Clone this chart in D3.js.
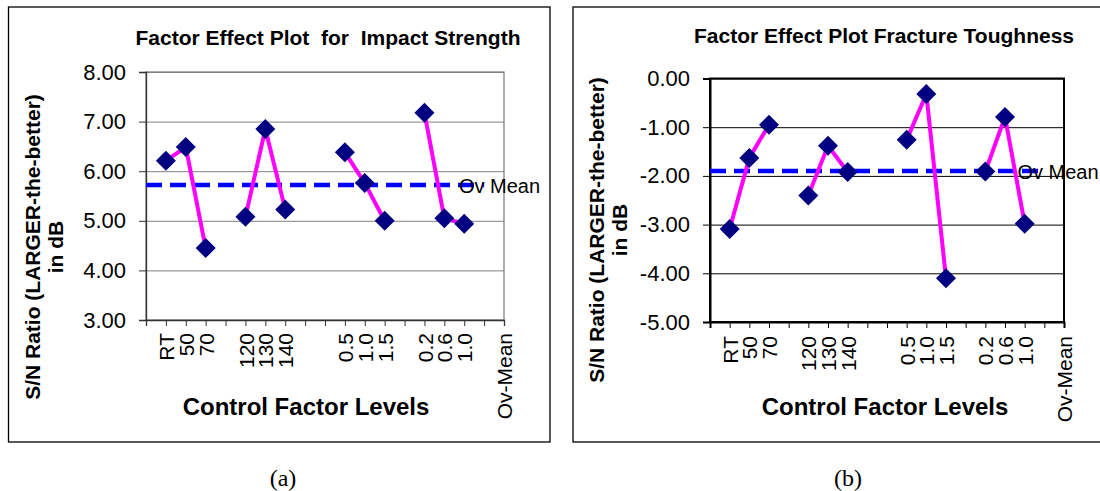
<!DOCTYPE html>
<html>
<head>
<meta charset="utf-8">
<script src="https://cdn.jsdelivr.net/npm/d3@7"></script>
<style>
  body { margin: 0; background: #fff; overflow: hidden; }
  svg { display: block; font-family: "Liberation Sans", Arial, sans-serif; }
  .title { font-weight: bold; white-space: pre; }
</style>
</head>
<body>
<svg id="chart" width="1100" height="491"></svg>
<script>
// category slots on the x axis (blank ones are spacers between factors)
var categories = ["", "RT", "50", "70", "", "120", "130", "140", "", "", "0.5", "1.0", "1.5", "", "0.2", "0.6", "1.0", "", "Ov-Mean"];

// S/N ratios
var impactSN = [null, 6.21, 6.49, 4.45, null, 5.08, 6.85, 5.23, null, null, 6.38, 5.76, 5.00, null, 7.18, 5.05, 4.94, null, null];
var impactMean = 5.72;
var impactTicks = [3, 4, 5, 6, 7, 8];

var toughSN = [null, -3.09, -1.63, -0.95, null, -2.40, -1.38, -1.92, null, null, -1.26, -0.32, -4.10, null, -1.91, -0.79, -2.98, null, null];
var toughMean = -1.90;
var toughTicks = [-5, -4, -3, -2, -1, 0];

var meanEnd = 17; // dashed mean line runs to this slot, label sits on the last one

var svg = d3.select("#chart");

function drawPanel(p){
    var g = svg.append("g");

    // outer frame
    g.append("rect")
        .attr("x", p.box[0]).attr("y", p.box[1])
        .attr("width", p.box[2]).attr("height", p.box[3])
        .attr("fill", "none").attr("stroke", "#000").attr("stroke-width", 1.3);

    var x = d3.scalePoint()
        .domain(d3.range(categories.length))
        .range([p.left, p.right]);
    var y = d3.scaleLinear()
        .domain(d3.extent(p.ticks))
        .range([p.bottom, p.top]);

    // gridlines
    g.append("g")
        .attr("transform", `translate(${p.left},0)`)
        .call(d3.axisLeft(y).tickValues(p.ticks).tickSize(-(p.right - p.left)).tickFormat(""))
        .call(a => a.select(".domain").remove())
        .selectAll("line").attr("stroke", p.gridColor);

    // plot frame
    g.append("rect")
        .attr("x", p.left).attr("y", p.top)
        .attr("width", p.right - p.left).attr("height", p.bottom - p.top)
        .attr("fill", "none").attr("stroke", p.frameColor).attr("stroke-width", p.frameWidth);

    // y axis
    var ya = g.append("g")
        .attr("transform", `translate(${p.left},0)`)
        .call(d3.axisLeft(y).tickValues(p.ticks).tickSize(7).tickPadding(13).tickFormat(v => v.toFixed(2)));
    ya.select(".domain").attr("stroke", p.axisColor).attr("stroke-width", p.frameWidth);
    ya.selectAll("line").attr("stroke", p.axisColor);
    ya.selectAll("text").attr("font-size", 22).attr("fill", "#000")
        .attr("font-family", "Liberation Sans, Arial, sans-serif");

    // x axis
    var xa = g.append("g")
        .attr("transform", `translate(0,${p.bottom})`)
        .call(d3.axisBottom(x).tickSize(6).tickFormat(i => categories[i]));
    xa.select(".domain").attr("stroke", p.axisColor).attr("stroke-width", p.frameWidth);
    xa.selectAll("line").attr("stroke", p.axisColor);
    xa.selectAll("text")
        .attr("font-size", 21).attr("fill", "#000")
        .attr("font-family", "Liberation Sans, Arial, sans-serif")
        .attr("text-anchor", "end")
        .attr("transform", "rotate(-90)")
        .attr("x", -p.labelGap).attr("y", 0).attr("dy", "0.36em");

    // mean line
    g.append("line")
        .attr("x1", x(0)).attr("x2", x(meanEnd))
        .attr("y1", y(p.mean)).attr("y2", y(p.mean))
        .attr("stroke", "#0000ff").attr("stroke-width", 4.5)
        .attr("stroke-dasharray", "16 8");

    // factor lines
    var line = d3.line()
        .defined(d => d != null)
        .x((d, i) => x(i))
        .y(d => y(d));
    g.append("path")
        .datum(p.values)
        .attr("d", line)
        .attr("fill", "none").attr("stroke", "#ff00ff").attr("stroke-width", 4)
        .attr("stroke-linejoin", "round");

    // diamonds
    var pts = p.values.map((v, i) => ({v: v, i: i})).filter(d => d.v != null);
    g.selectAll("path.mark")
        .data(pts)
        .enter().append("path")
        .attr("class", "mark")
        .attr("d", "M0,-10L10,0L0,10L-10,0Z")
        .attr("transform", d => `translate(${x(d.i)},${y(d.v)})`)
        .attr("fill", "#000080");

    // Ov Mean label
    g.append("text")
        .attr("x", x(categories.length - 1) + p.meanDx)
        .attr("y", y(p.mean))
        .attr("dy", "0.38em")
        .attr("text-anchor", "middle")
        .attr("font-size", 20)
        .text("Ov Mean");

    // titles
    g.append("text").attr("class", "title")
        .attr("x", p.titleX).attr("y", p.titleY)
        .attr("text-anchor", "middle").attr("font-size", 21)
        .text(p.title);

    g.append("text").attr("class", "title")
        .attr("x", p.xTitleX).attr("y", 415)
        .attr("text-anchor", "middle").attr("font-size", 24)
        .text("Control Factor Levels");

    var yt = g.append("text").attr("class", "title")
        .attr("transform", `translate(0,${p.yTitleY}) rotate(-90)`)
        .attr("text-anchor", "middle").attr("font-size", 21);
    yt.append("tspan").attr("x", 0).attr("y", p.yTitleX[0]).attr("dy", "0.35em")
        .text("S/N Ratio (LARGER-the-better)");
    yt.append("tspan").attr("x", 0).attr("y", p.yTitleX[1]).attr("dy", "0.35em")
        .text("in dB");

    // caption
    svg.append("text")
        .attr("x", p.captionX).attr("y", 486)
        .attr("text-anchor", "middle")
        .attr("font-family", "Liberation Serif, Times New Roman, serif")
        .attr("font-size", 24)
        .text(p.caption);
}

drawPanel({
    box: [8.5, 7, 541.5, 435],
    left: 146, right: 504, top: 72, bottom: 320,
    ticks: impactTicks, values: impactSN, mean: impactMean,
    gridColor: "#808080", frameColor: "#808080", axisColor: "#333", frameWidth: 1.3,
    labelGap: 13, meanDx: -4.5,
    title: "Factor Effect Plot  for  Impact Strength", titleX: 328, titleY: 45,
    xTitleX: 306, yTitleX: [33, 56], yTitleY: 247,
    caption: "(a)", captionX: 283
});

drawPanel({
    box: [573, 7, 560, 435],
    left: 710, right: 1064, top: 78.5, bottom: 322,
    ticks: toughTicks, values: toughSN, mean: toughMean,
    gridColor: "#000", frameColor: "#000", axisColor: "#000", frameWidth: 2,
    labelGap: 14, meanDx: -6,
    title: "Factor Effect Plot Fracture Toughness", titleX: 884, titleY: 43,
    xTitleX: 885, yTitleX: [597, 620], yTitleY: 230,
    caption: "(b)", captionX: 848
});
</script>
</body>
</html>
